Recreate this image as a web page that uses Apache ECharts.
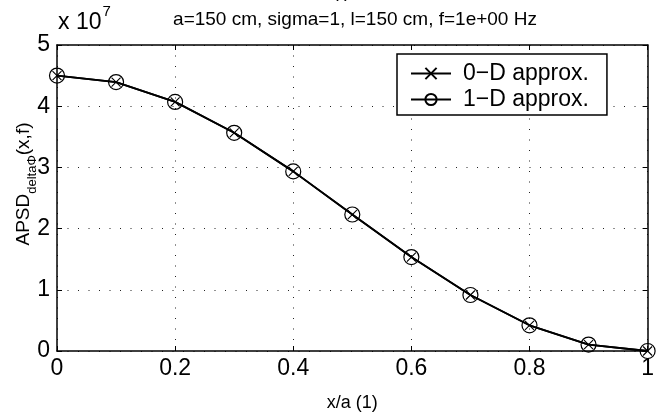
<!DOCTYPE html>
<html>
<head>
<meta charset="utf-8">
<script src="https://cdn.jsdelivr.net/npm/echarts@6/dist/echarts.min.js"></script>
<style>
html, body { margin: 0; padding: 0; background: #fff; }
#chart { width: 657px; height: 417px; }
</style>
</head>
<body>
<div id="chart"></div>
<script>
// Normalised position along the slab, x/a
const xPos = [0, 0.1, 0.2, 0.3, 0.4, 0.5, 0.6, 0.7, 0.8, 0.9, 1.0];
// APSD of delta-Phi for the two approximations
const apsd0D = [4.50e7, 4.395e7, 4.07e7, 3.565e7, 2.935e7, 2.23e7, 1.535e7, 0.915e7, 0.42e7, 0.105e7, 0.0];
const apsd1D = [4.50e7, 4.395e7, 4.07e7, 3.565e7, 2.935e7, 2.23e7, 1.535e7, 0.915e7, 0.42e7, 0.105e7, 0.0];
const seriesNames = ['0\u2212D approx.', '1\u2212D approx.'];
const xTickLabels = ['0', '0.2', '0.4', '0.6', '0.8', '1'];
const yTickLabels = ['0', '1', '2', '3', '4', '5'];
const yScale = 1e7;

const FONT = 'Liberation Sans, Arial, Helvetica, sans-serif';
const chart = echarts.init(document.getElementById('chart'), null, { renderer: 'canvas' });

const gridStyle = { show: true, lineStyle: { color: '#222', width: 1, type: [1, 9.5] } };
const frame = { show: true, onZero: false, lineStyle: { color: '#000', width: 1.5 } };
const tickIn = { show: true, inside: true, length: 5, lineStyle: { color: '#000', width: 1 } };

const crossPath = 'path://M0,0L10,10M10,0L0,10';

chart.setOption({
  backgroundColor: '#fff',
  animation: false,
  textStyle: { fontFamily: FONT },
  grid: { left: 57, right: 6, top: 45, bottom: 64 },
  xAxis: [{
    type: 'value', min: 0, max: 1, interval: 0.2, position: 'bottom',
    axisLine: frame, axisTick: tickIn, splitLine: gridStyle,
    axisLabel: {
      color: '#000', fontSize: 23, fontFamily: FONT, margin: 6,
      formatter: v => xTickLabels[Math.round(v / 0.2)]
    },
    name: 'x/a (1)', nameLocation: 'middle', nameGap: 43,
    nameTextStyle: { color: '#000', fontSize: 18, fontFamily: FONT }
  }, {
    type: 'value', min: 0, max: 1, interval: 0.2, position: 'top',
    axisLine: frame, axisTick: tickIn, splitLine: { show: false },
    axisLabel: { show: false }
  }],
  yAxis: [{
    type: 'value', min: 0, max: 5 * yScale, interval: yScale, position: 'left',
    axisLine: frame, axisTick: tickIn, splitLine: gridStyle,
    axisLabel: {
      color: '#000', fontSize: 23, fontFamily: FONT, margin: 7,
      formatter: v => yTickLabels[Math.round(v / yScale)]
    }
  }, {
    type: 'value', min: 0, max: 5 * yScale, interval: yScale, position: 'right',
    axisLine: frame, axisTick: tickIn, splitLine: { show: false },
    axisLabel: { show: false }
  }],
  legend: {
    orient: 'vertical', left: 397, top: 54,
    padding: [8, 18, 4, 13], itemGap: 3,
    itemWidth: 40, itemHeight: 14,
    backgroundColor: '#fff', borderColor: '#000', borderWidth: 1.5,
    textStyle: { color: '#000', fontSize: 23, fontFamily: FONT, lineHeight: 22, padding: [0, 0, 0, 7] },
    data: seriesNames
  },
  series: [{
    name: seriesNames[0], type: 'line',
    data: xPos.map((x, i) => [x, apsd0D[i]]),
    symbol: crossPath, symbolSize: 9, showAllSymbol: true,
    lineStyle: { color: '#000', width: 1.8 },
    itemStyle: { color: 'rgba(0,0,0,0)', borderColor: '#000', borderWidth: 1.1 },
    z: 3
  }, {
    name: seriesNames[1], type: 'line',
    data: xPos.map((x, i) => [x, apsd1D[i]]),
    symbol: 'circle', symbolSize: 15, showAllSymbol: true,
    lineStyle: { color: '#000', width: 1.8 },
    itemStyle: { color: 'rgba(0,0,0,0)', borderColor: '#000', borderWidth: 1.2 },
    z: 4
  }],
  graphic: [{
    type: 'text', left: 'center', top: -18,
    style: { text: '\u03b4\u03a6(f)', font: '19px ' + FONT, fill: '#000' },
    x: 28
  }, {
    type: 'text', x: 355, y: 20,
    style: { text: 'a=150 cm, sigma=1, l=150 cm, f=1e+00 Hz', font: '19px ' + FONT, fill: '#000', align: 'center', verticalAlign: 'middle' }
  }, {
    type: 'text', x: 58, y: 34,
    style: {
      text: '{a|x 10}{b|7}', fill: '#000', verticalAlign: 'bottom',
      rich: {
        a: { fontSize: 23, fontFamily: FONT, fill: '#000', lineHeight: 30, verticalAlign: 'bottom' },
        b: { fontSize: 15, fontFamily: FONT, fill: '#000', lineHeight: 30, verticalAlign: 'top', padding: [0, 0, 0, 1] }
      }
    }
  }, {
    type: 'text', x: 24, y: 184, rotation: Math.PI / 2,
    style: {
      text: '{m|APSD}{s|deltaΦ}{m|(x,f)}', align: 'center', verticalAlign: 'middle',
      rich: {
        m: { fontSize: 19, fontFamily: FONT, fill: '#000', lineHeight: 30, verticalAlign: 'middle' },
        s: { fontSize: 13, fontFamily: FONT, fill: '#000', lineHeight: 30, verticalAlign: 'bottom' }
      }
    }
  }]
});
</script>
</body>
</html>
